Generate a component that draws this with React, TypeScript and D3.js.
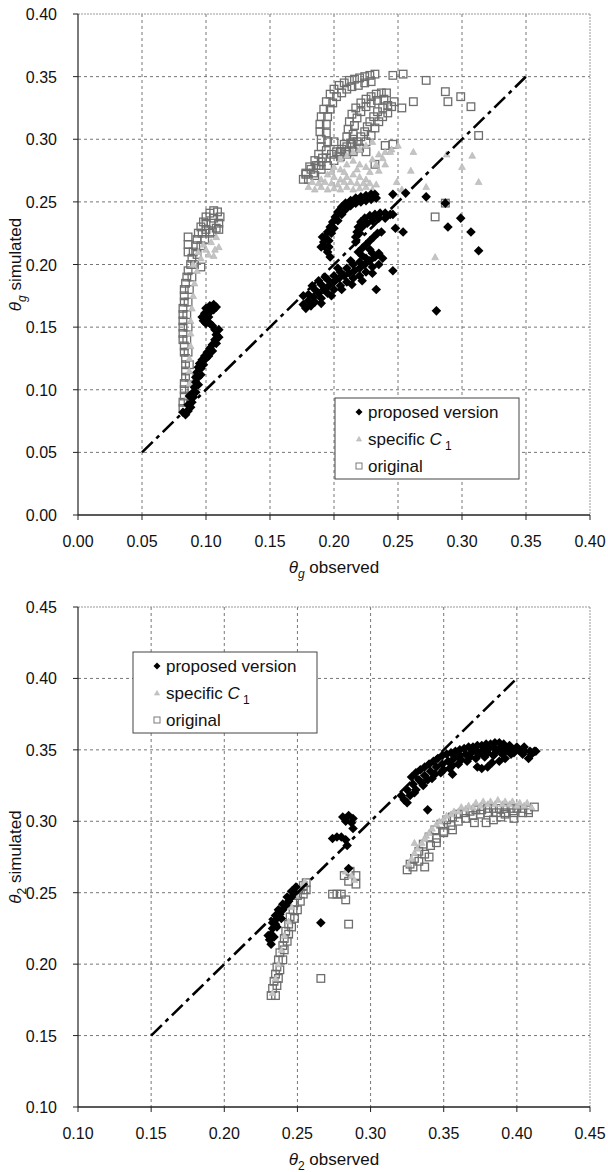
import React from "react";
import * as d3 from "d3";

type P = [number, number];

// ---------- TOP PANEL (theta_g) ----------
const topProposed: P[] = [
  [0.082, 0.082], [0.084, 0.080], [0.086, 0.083], [0.088, 0.086], [0.087, 0.095], [0.089, 0.090],
  [0.090, 0.094], [0.090, 0.098], [0.091, 0.102], [0.092, 0.106], [0.092, 0.110], [0.094, 0.110],
  [0.093, 0.114], [0.094, 0.118], [0.096, 0.117], [0.095, 0.121], [0.097, 0.124], [0.100, 0.125],
  [0.099, 0.127], [0.101, 0.130], [0.103, 0.133], [0.105, 0.136], [0.107, 0.140], [0.108, 0.144],
  [0.107, 0.148], [0.105, 0.151], [0.103, 0.153], [0.100, 0.153], [0.098, 0.155], [0.097, 0.158],
  [0.099, 0.161], [0.100, 0.165], [0.103, 0.167], [0.106, 0.168], [0.108, 0.166], [0.104, 0.163],
  [0.086, 0.088], [0.092, 0.098], [0.094, 0.104], [0.096, 0.112], [0.098, 0.120], [0.102, 0.127],
  [0.105, 0.131], [0.108, 0.137], [0.110, 0.142], [0.110, 0.148], [0.102, 0.158], [0.101, 0.162],
  [0.106, 0.164],
  [0.197, 0.206], [0.195, 0.210], [0.193, 0.214], [0.192, 0.218], [0.193, 0.222], [0.195, 0.226],
  [0.197, 0.230], [0.199, 0.234], [0.201, 0.238], [0.203, 0.242], [0.206, 0.246], [0.209, 0.249],
  [0.213, 0.251], [0.217, 0.253], [0.221, 0.254], [0.225, 0.255], [0.229, 0.256], [0.232, 0.256],
  [0.196, 0.214], [0.196, 0.219], [0.198, 0.225], [0.200, 0.229], [0.203, 0.235], [0.206, 0.240],
  [0.209, 0.244], [0.213, 0.247], [0.217, 0.249], [0.221, 0.250], [0.225, 0.251], [0.229, 0.252],
  [0.233, 0.253], [0.191, 0.222], [0.190, 0.214],
  [0.217, 0.218], [0.217, 0.222], [0.218, 0.226], [0.219, 0.230], [0.221, 0.234], [0.224, 0.237],
  [0.228, 0.239], [0.232, 0.240], [0.236, 0.241], [0.240, 0.241], [0.244, 0.240],
  [0.220, 0.225], [0.222, 0.230], [0.226, 0.233], [0.230, 0.235], [0.235, 0.237], [0.240, 0.237],
  [0.219, 0.210], [0.222, 0.213], [0.225, 0.216], [0.228, 0.219], [0.231, 0.222], [0.234, 0.225],
  [0.237, 0.226],
  [0.176, 0.168], [0.180, 0.171], [0.184, 0.174], [0.188, 0.177], [0.192, 0.180], [0.196, 0.183],
  [0.200, 0.186], [0.204, 0.189], [0.208, 0.191], [0.212, 0.193], [0.216, 0.195], [0.220, 0.197],
  [0.224, 0.200], [0.228, 0.203], [0.232, 0.206], [0.235, 0.209],
  [0.180, 0.176], [0.185, 0.180], [0.190, 0.184], [0.195, 0.188], [0.200, 0.191], [0.205, 0.194],
  [0.210, 0.197], [0.215, 0.200], [0.220, 0.202], [0.225, 0.205], [0.230, 0.209],
  [0.185, 0.170], [0.190, 0.173], [0.195, 0.177], [0.200, 0.180], [0.205, 0.183], [0.210, 0.186],
  [0.215, 0.189], [0.220, 0.191], [0.225, 0.194], [0.230, 0.198],
  [0.178, 0.165], [0.182, 0.167], [0.190, 0.169], [0.198, 0.175], [0.206, 0.180], [0.214, 0.184],
  [0.222, 0.187], [0.230, 0.193], [0.235, 0.200], [0.238, 0.205], [0.176, 0.175], [0.183, 0.183],
  [0.188, 0.187], [0.193, 0.190], [0.203, 0.197], [0.213, 0.203], [0.222, 0.207], [0.228, 0.212],
  [0.246, 0.256], [0.256, 0.257], [0.246, 0.240], [0.248, 0.229], [0.254, 0.226], [0.246, 0.195],
  [0.233, 0.180], [0.272, 0.254], [0.299, 0.237], [0.289, 0.230], [0.307, 0.226], [0.313, 0.211],
  [0.280, 0.163], [0.287, 0.249],
];

const topSpecific: P[] = [
  [0.085, 0.085], [0.086, 0.095], [0.087, 0.105], [0.087, 0.115], [0.087, 0.125], [0.088, 0.135],
  [0.088, 0.145], [0.088, 0.155], [0.089, 0.165], [0.090, 0.175], [0.091, 0.185], [0.093, 0.195],
  [0.096, 0.205], [0.100, 0.212], [0.104, 0.218], [0.108, 0.222], [0.110, 0.214], [0.106, 0.207],
  [0.090, 0.200], [0.094, 0.210], [0.098, 0.216], [0.102, 0.208], [0.107, 0.212],
  [0.180, 0.262], [0.185, 0.260], [0.190, 0.262], [0.195, 0.260], [0.200, 0.261], [0.205, 0.260],
  [0.210, 0.262], [0.215, 0.260], [0.220, 0.261], [0.225, 0.262], [0.230, 0.260], [0.233, 0.264],
  [0.190, 0.268], [0.195, 0.272], [0.200, 0.270], [0.205, 0.268], [0.210, 0.270], [0.215, 0.272],
  [0.220, 0.270], [0.225, 0.268], [0.200, 0.278], [0.205, 0.276], [0.210, 0.280], [0.215, 0.283],
  [0.220, 0.280], [0.225, 0.278], [0.230, 0.284], [0.235, 0.288], [0.240, 0.290], [0.245, 0.292],
  [0.250, 0.295], [0.240, 0.280], [0.235, 0.275], [0.215, 0.290], [0.220, 0.292], [0.225, 0.295],
  [0.230, 0.298],
  [0.183, 0.266], [0.188, 0.265], [0.193, 0.266], [0.198, 0.265], [0.203, 0.264], [0.208, 0.266],
  [0.213, 0.266], [0.218, 0.265], [0.223, 0.265], [0.228, 0.265], [0.198, 0.274], [0.208, 0.274],
  [0.218, 0.276], [0.228, 0.274], [0.233, 0.280], [0.238, 0.285], [0.205, 0.284], [0.210, 0.287],
  [0.262, 0.290], [0.288, 0.288], [0.308, 0.287], [0.300, 0.278], [0.313, 0.266], [0.272, 0.262],
  [0.249, 0.266], [0.253, 0.260], [0.279, 0.206], [0.244, 0.290], [0.260, 0.275],
];

const topOriginal: P[] = [
  [0.082, 0.085], [0.082, 0.090], [0.083, 0.095], [0.083, 0.100], [0.083, 0.105], [0.084, 0.110],
  [0.084, 0.115], [0.084, 0.120], [0.084, 0.125], [0.083, 0.130], [0.083, 0.135], [0.082, 0.140],
  [0.085, 0.140], [0.082, 0.145], [0.082, 0.150], [0.082, 0.155], [0.082, 0.160], [0.085, 0.160],
  [0.082, 0.165], [0.083, 0.170], [0.083, 0.175], [0.083, 0.180], [0.084, 0.185], [0.085, 0.190],
  [0.086, 0.195], [0.088, 0.200], [0.089, 0.205], [0.090, 0.210], [0.092, 0.215], [0.093, 0.220],
  [0.094, 0.225], [0.096, 0.230], [0.098, 0.234], [0.100, 0.238], [0.103, 0.241], [0.106, 0.243],
  [0.109, 0.242], [0.111, 0.238], [0.110, 0.233], [0.108, 0.229], [0.105, 0.226], [0.100, 0.228],
  [0.097, 0.225], [0.086, 0.222], [0.086, 0.216], [0.086, 0.210], [0.096, 0.198],
  [0.086, 0.090], [0.087, 0.100], [0.087, 0.110], [0.087, 0.120], [0.086, 0.130], [0.086, 0.150],
  [0.086, 0.170], [0.087, 0.180], [0.089, 0.190], [0.091, 0.200], [0.093, 0.208], [0.096, 0.215],
  [0.099, 0.220], [0.103, 0.225], [0.104, 0.233], [0.100, 0.233], [0.106, 0.237], [0.110, 0.228],
  [0.176, 0.268], [0.178, 0.273], [0.181, 0.278], [0.185, 0.283], [0.188, 0.288], [0.190, 0.294],
  [0.190, 0.300], [0.189, 0.306], [0.189, 0.312], [0.190, 0.318], [0.192, 0.324], [0.194, 0.330],
  [0.197, 0.336], [0.200, 0.340], [0.204, 0.343], [0.208, 0.345], [0.212, 0.347], [0.216, 0.348],
  [0.220, 0.349], [0.224, 0.350], [0.228, 0.351], [0.232, 0.352],
  [0.180, 0.268], [0.184, 0.273], [0.188, 0.279], [0.191, 0.285], [0.194, 0.291], [0.195, 0.298],
  [0.194, 0.305], [0.194, 0.312], [0.195, 0.318], [0.197, 0.324], [0.199, 0.329], [0.202, 0.334],
  [0.206, 0.337], [0.210, 0.340], [0.214, 0.342], [0.219, 0.343], [0.224, 0.345], [0.229, 0.346],
  [0.205, 0.290], [0.208, 0.296], [0.210, 0.302], [0.211, 0.308], [0.212, 0.314], [0.214, 0.320],
  [0.217, 0.325], [0.221, 0.329], [0.225, 0.332], [0.229, 0.334], [0.233, 0.336], [0.237, 0.337],
  [0.241, 0.337],
  [0.209, 0.290], [0.213, 0.297], [0.215, 0.304], [0.216, 0.311], [0.218, 0.317], [0.221, 0.322],
  [0.225, 0.326], [0.229, 0.329], [0.234, 0.331], [0.239, 0.332],
  [0.178, 0.272], [0.182, 0.276], [0.186, 0.279], [0.190, 0.282], [0.194, 0.285], [0.198, 0.288],
  [0.202, 0.290], [0.206, 0.292], [0.210, 0.294], [0.214, 0.296], [0.218, 0.298], [0.221, 0.302],
  [0.224, 0.306], [0.226, 0.310], [0.228, 0.314], [0.231, 0.318], [0.234, 0.322], [0.238, 0.325],
  [0.242, 0.327], [0.245, 0.326],
  [0.185, 0.271], [0.190, 0.276], [0.195, 0.279], [0.200, 0.283], [0.205, 0.286], [0.210, 0.288],
  [0.215, 0.290], [0.220, 0.293], [0.225, 0.298], [0.229, 0.303], [0.232, 0.309], [0.235, 0.314],
  [0.238, 0.318], [0.242, 0.321],
  [0.246, 0.351], [0.254, 0.352], [0.272, 0.347], [0.287, 0.338], [0.289, 0.330], [0.299, 0.334],
  [0.307, 0.326], [0.313, 0.303], [0.262, 0.330], [0.253, 0.325], [0.247, 0.330], [0.246, 0.296],
  [0.232, 0.280], [0.279, 0.238], [0.287, 0.249], [0.200, 0.298], [0.215, 0.300], [0.225, 0.290],
  [0.240, 0.295],
];

// ---------- BOTTOM PANEL (theta_2) ----------
const botProposed: P[] = [
  [0.321, 0.318], [0.325, 0.322], [0.329, 0.326], [0.333, 0.329], [0.337, 0.332], [0.341, 0.335],
  [0.345, 0.338], [0.349, 0.340], [0.353, 0.342], [0.357, 0.344], [0.361, 0.346], [0.365, 0.347],
  [0.369, 0.348], [0.373, 0.349], [0.377, 0.350], [0.381, 0.351], [0.385, 0.351], [0.389, 0.352],
  [0.393, 0.351], [0.397, 0.350], [0.401, 0.350], [0.405, 0.349], [0.409, 0.349], [0.412, 0.349],
  [0.328, 0.331], [0.334, 0.336], [0.340, 0.340], [0.346, 0.344], [0.352, 0.347], [0.358, 0.349],
  [0.364, 0.351], [0.370, 0.352], [0.376, 0.353], [0.382, 0.354], [0.388, 0.355],
  [0.330, 0.320], [0.336, 0.325], [0.342, 0.330], [0.348, 0.334], [0.354, 0.337], [0.360, 0.340],
  [0.366, 0.342], [0.372, 0.344], [0.378, 0.345], [0.384, 0.346], [0.390, 0.347], [0.396, 0.347],
  [0.323, 0.315], [0.327, 0.318], [0.331, 0.322], [0.335, 0.327], [0.339, 0.329], [0.344, 0.333],
  [0.350, 0.336], [0.356, 0.339], [0.362, 0.343], [0.368, 0.345], [0.374, 0.347], [0.380, 0.348],
  [0.386, 0.349], [0.392, 0.349], [0.398, 0.348], [0.404, 0.347], [0.410, 0.347],
  [0.331, 0.334], [0.337, 0.338], [0.343, 0.342], [0.349, 0.346], [0.355, 0.348], [0.361, 0.350],
  [0.367, 0.352], [0.373, 0.353], [0.379, 0.354], [0.385, 0.355], [0.391, 0.354], [0.395, 0.353],
  [0.400, 0.352], [0.405, 0.352],
  [0.373, 0.338], [0.376, 0.337], [0.380, 0.338], [0.383, 0.341], [0.388, 0.342], [0.392, 0.344],
  [0.408, 0.344], [0.356, 0.333], [0.339, 0.308], [0.325, 0.313], [0.413, 0.349],
  [0.281, 0.303], [0.285, 0.304], [0.288, 0.302], [0.283, 0.300], [0.287, 0.299], [0.288, 0.295],
  [0.274, 0.288], [0.277, 0.289], [0.280, 0.289], [0.283, 0.287], [0.284, 0.283], [0.285, 0.267],
  [0.266, 0.229],
  [0.231, 0.217], [0.232, 0.221], [0.233, 0.225], [0.235, 0.228], [0.236, 0.232], [0.238, 0.235],
  [0.240, 0.238], [0.242, 0.241], [0.244, 0.244], [0.246, 0.247], [0.248, 0.250], [0.236, 0.226],
  [0.239, 0.232], [0.234, 0.219],
  [0.233, 0.229], [0.235, 0.234], [0.237, 0.238], [0.240, 0.242], [0.243, 0.247], [0.246, 0.251],
  [0.249, 0.254], [0.230, 0.220], [0.232, 0.214],
];

const botSpecific: P[] = [
  [0.233, 0.180], [0.235, 0.190], [0.237, 0.200], [0.239, 0.210], [0.241, 0.220], [0.244, 0.230],
  [0.246, 0.240], [0.249, 0.248], [0.253, 0.255], [0.255, 0.258],
  [0.283, 0.265], [0.287, 0.262], [0.289, 0.259],
  [0.326, 0.270], [0.330, 0.278], [0.335, 0.285], [0.340, 0.292], [0.345, 0.298], [0.350, 0.302],
  [0.355, 0.305], [0.360, 0.307], [0.365, 0.309], [0.370, 0.310], [0.375, 0.311], [0.380, 0.312],
  [0.385, 0.312], [0.390, 0.312], [0.395, 0.312], [0.400, 0.311], [0.405, 0.311], [0.410, 0.310],
  [0.330, 0.285], [0.338, 0.290],
  [0.328, 0.274], [0.332, 0.281], [0.337, 0.288], [0.342, 0.295], [0.347, 0.300], [0.352, 0.304],
  [0.357, 0.307], [0.362, 0.310], [0.367, 0.311], [0.372, 0.313], [0.377, 0.314], [0.382, 0.314],
  [0.387, 0.315], [0.392, 0.314], [0.397, 0.314], [0.402, 0.313], [0.407, 0.313],
];

const botOriginal: P[] = [
  [0.232, 0.178], [0.233, 0.183], [0.234, 0.188], [0.235, 0.193], [0.236, 0.198], [0.237, 0.203],
  [0.238, 0.208], [0.240, 0.213], [0.241, 0.218], [0.242, 0.223], [0.244, 0.228], [0.245, 0.233],
  [0.247, 0.238], [0.248, 0.243], [0.250, 0.248], [0.252, 0.252], [0.254, 0.255], [0.256, 0.257],
  [0.235, 0.178], [0.236, 0.185], [0.237, 0.190], [0.238, 0.196], [0.240, 0.203], [0.241, 0.210],
  [0.243, 0.216], [0.244, 0.221], [0.246, 0.226], [0.248, 0.232], [0.250, 0.238], [0.252, 0.244],
  [0.254, 0.249], [0.256, 0.252],
  [0.266, 0.190], [0.285, 0.228], [0.274, 0.249], [0.277, 0.249], [0.280, 0.249], [0.283, 0.245],
  [0.282, 0.262], [0.286, 0.265], [0.290, 0.262], [0.285, 0.258], [0.290, 0.256],
  [0.325, 0.266], [0.327, 0.270], [0.330, 0.274], [0.333, 0.279], [0.336, 0.284], [0.340, 0.289],
  [0.344, 0.294], [0.348, 0.298], [0.352, 0.301], [0.356, 0.303], [0.360, 0.305], [0.364, 0.306],
  [0.368, 0.307], [0.372, 0.308], [0.376, 0.308], [0.380, 0.309], [0.384, 0.309], [0.388, 0.309],
  [0.392, 0.309], [0.396, 0.309], [0.400, 0.309], [0.404, 0.309], [0.408, 0.308],
  [0.329, 0.268], [0.333, 0.272], [0.337, 0.277], [0.341, 0.283], [0.345, 0.288], [0.350, 0.293],
  [0.355, 0.297], [0.360, 0.300], [0.365, 0.302], [0.370, 0.304], [0.375, 0.305], [0.380, 0.306],
  [0.386, 0.306], [0.392, 0.306], [0.398, 0.306], [0.404, 0.306],
  [0.337, 0.268], [0.340, 0.275], [0.345, 0.285], [0.350, 0.292], [0.356, 0.294], [0.371, 0.299],
  [0.379, 0.299], [0.384, 0.301], [0.389, 0.303], [0.392, 0.305], [0.398, 0.302], [0.408, 0.306],
  [0.412, 0.310],
];

const topTicks = [0, 0.05, 0.1, 0.15, 0.2, 0.25, 0.3, 0.35, 0.4];
const botTicks = [0.1, 0.15, 0.2, 0.25, 0.3, 0.35, 0.4, 0.45];
const topRefLine: P[] = [[0.05, 0.05], [0.35, 0.35]];
const botRefLine: P[] = [[0.15, 0.15], [0.4, 0.4]];
const legendLabels = ["proposed version", "specific", "original"];

const FONT = "'Liberation Sans', Arial, Helvetica, sans-serif";
const fmt = d3.format(".2f");

function diamond(cx: number, cy: number, r: number) {
  return `M${cx},${cy - r}L${cx + r},${cy}L${cx},${cy + r}L${cx - r},${cy}Z`;
}
function triangle(cx: number, cy: number, r: number) {
  return `M${cx},${cy - r}L${cx + r},${cy + r * 0.8}L${cx - r},${cy + r * 0.8}Z`;
}

type PanelProps = {
  top: number;
  bottom: number;
  ticks: number[];
  proposed: P[];
  specific: P[];
  original: P[];
  refLine: P[];
  sub: string;
  subItalic: boolean;
  legendX: number;
  legendY: number;
};

function Panel(p: PanelProps) {
  const left = 78;
  const right = 590;
  const dom = [p.ticks[0], p.ticks[p.ticks.length - 1]];
  const x = d3.scaleLinear().domain(dom).range([left, right]);
  const y = d3.scaleLinear().domain(dom).range([p.bottom, p.top]);
  const line = d3.line<P>().x((d) => x(d[0])).y((d) => y(d[1]));
  const midY = (p.top + p.bottom) / 2;
  const midX = (left + right) / 2;
  const lw = 184;
  const lh = 81;
  const subStyle = p.subItalic ? "italic" : "normal";
  return (
    <g>
      {p.ticks.slice(1, -1).map((t, i) => (
        <line key={"gx" + i} x1={x(t)} x2={x(t)} y1={p.top} y2={p.bottom}
          stroke="#666" strokeWidth={0.9} strokeDasharray="3,3" />
      ))}
      {p.ticks.slice(1, -1).map((t, i) => (
        <line key={"gy" + i} x1={left} x2={right} y1={y(t)} y2={y(t)}
          stroke="#666" strokeWidth={0.9} strokeDasharray="3,3" />
      ))}
      <line x1={left} x2={right} y1={p.top} y2={p.top} stroke="#999" strokeWidth={1} strokeDasharray="2,1" />
      <line x1={right} x2={right} y1={p.top} y2={p.bottom} stroke="#999" strokeWidth={1} strokeDasharray="2,1" />
      {p.original.map((d, i) => (
        <rect key={"o" + i} x={x(d[0]) - 3.8} y={y(d[1]) - 3.8} width={7.6} height={7.6}
          fill="none" stroke="#6e6e6e" strokeWidth={1.3} />
      ))}
      {p.specific.map((d, i) => (
        <path key={"s" + i} d={triangle(x(d[0]), y(d[1]), 3.4)} fill="#c4c4c4" stroke="#b4b4b4" strokeWidth={0.6} />
      ))}
      {p.proposed.map((d, i) => (
        <path key={"p" + i} d={diamond(x(d[0]), y(d[1]), 4.8)} fill="#000" />
      ))}
      <path d={line(p.refLine) || ""} fill="none" stroke="#000" strokeWidth={2.6}
        strokeDasharray="15,5,4,5" />
      <line x1={left} x2={left} y1={p.top} y2={p.bottom} stroke="#222" strokeWidth={1.2} />
      <line x1={left} x2={right} y1={p.bottom} y2={p.bottom} stroke="#222" strokeWidth={1.4} />
      {p.ticks.map((t, i) => (
        <g key={"tx" + i}>
          <line x1={x(t)} x2={x(t)} y1={p.bottom} y2={p.bottom + 5} stroke="#222" strokeWidth={1} />
          <text x={x(t)} y={p.bottom + 32} textAnchor="middle" fontSize={16} fontFamily={FONT} fill="#111">{fmt(t)}</text>
        </g>
      ))}
      {p.ticks.map((t, i) => (
        <g key={"ty" + i}>
          <line x1={left - 5} x2={left} y1={y(t)} y2={y(t)} stroke="#222" strokeWidth={1} />
          <text x={57} y={y(t) + 6} textAnchor="end" fontSize={16} fontFamily={FONT} fill="#111">{fmt(t)}</text>
        </g>
      ))}
      <text x={midX} y={p.bottom + 58} textAnchor="middle" fontSize={17} fontFamily={FONT} fill="#111">
        <tspan fontStyle="italic">θ</tspan>
        <tspan fontStyle={subStyle} fontSize={12} dy={5}>{p.sub}</tspan>
        <tspan dy={-5}> observed</tspan>
      </text>
      <text transform={`translate(21,${midY}) rotate(-90)`} textAnchor="middle" fontSize={17} fontFamily={FONT} fill="#111">
        <tspan fontStyle="italic">θ</tspan>
        <tspan fontStyle={subStyle} fontSize={12} dy={5}>{p.sub}</tspan>
        <tspan dy={-5}> simulated</tspan>
      </text>
      <g transform={`translate(${p.legendX},${p.legendY})`}>
        <rect x={0} y={0} width={lw} height={lh} fill="#fff" stroke="#444" strokeWidth={1} />
        <path d={diamond(24, 14, 3.5)} fill="#000" />
        <text x={33} y={20} fontSize={17} fontFamily={FONT} fill="#111">{legendLabels[0]}</text>
        <path d={triangle(24, 41, 2.6)} fill="#c4c4c4" stroke="#b0b0b0" strokeWidth={0.5} />
        <text x={33} y={47} fontSize={17} fontFamily={FONT} fill="#111">
          {legendLabels[1] + " "}
          <tspan fontStyle="italic">C</tspan>
          <tspan fontSize={12} dy={5}> 1</tspan>
        </text>
        <rect x={21} y={65} width={6} height={6} fill="none" stroke="#7a7a7a" strokeWidth={1} />
        <text x={33} y={74} fontSize={17} fontFamily={FONT} fill="#111">{legendLabels[2]}</text>
      </g>
    </g>
  );
}

export default function App() {
  return (
    <svg width={608} height={1172} style={{ position: "absolute", left: 0, top: 0, background: "#fff" }}>
      <rect x={0} y={0} width={608} height={1172} fill="#fff" />
      <Panel top={14} bottom={515} ticks={topTicks} proposed={topProposed} specific={topSpecific}
        original={topOriginal} refLine={topRefLine} sub="g" subItalic={true} legendX={335} legendY={398} />
      <Panel top={607} bottom={1107} ticks={botTicks} proposed={botProposed} specific={botSpecific}
        original={botOriginal} refLine={botRefLine} sub="2" subItalic={false} legendX={133} legendY={652} />
    </svg>
  );
}
